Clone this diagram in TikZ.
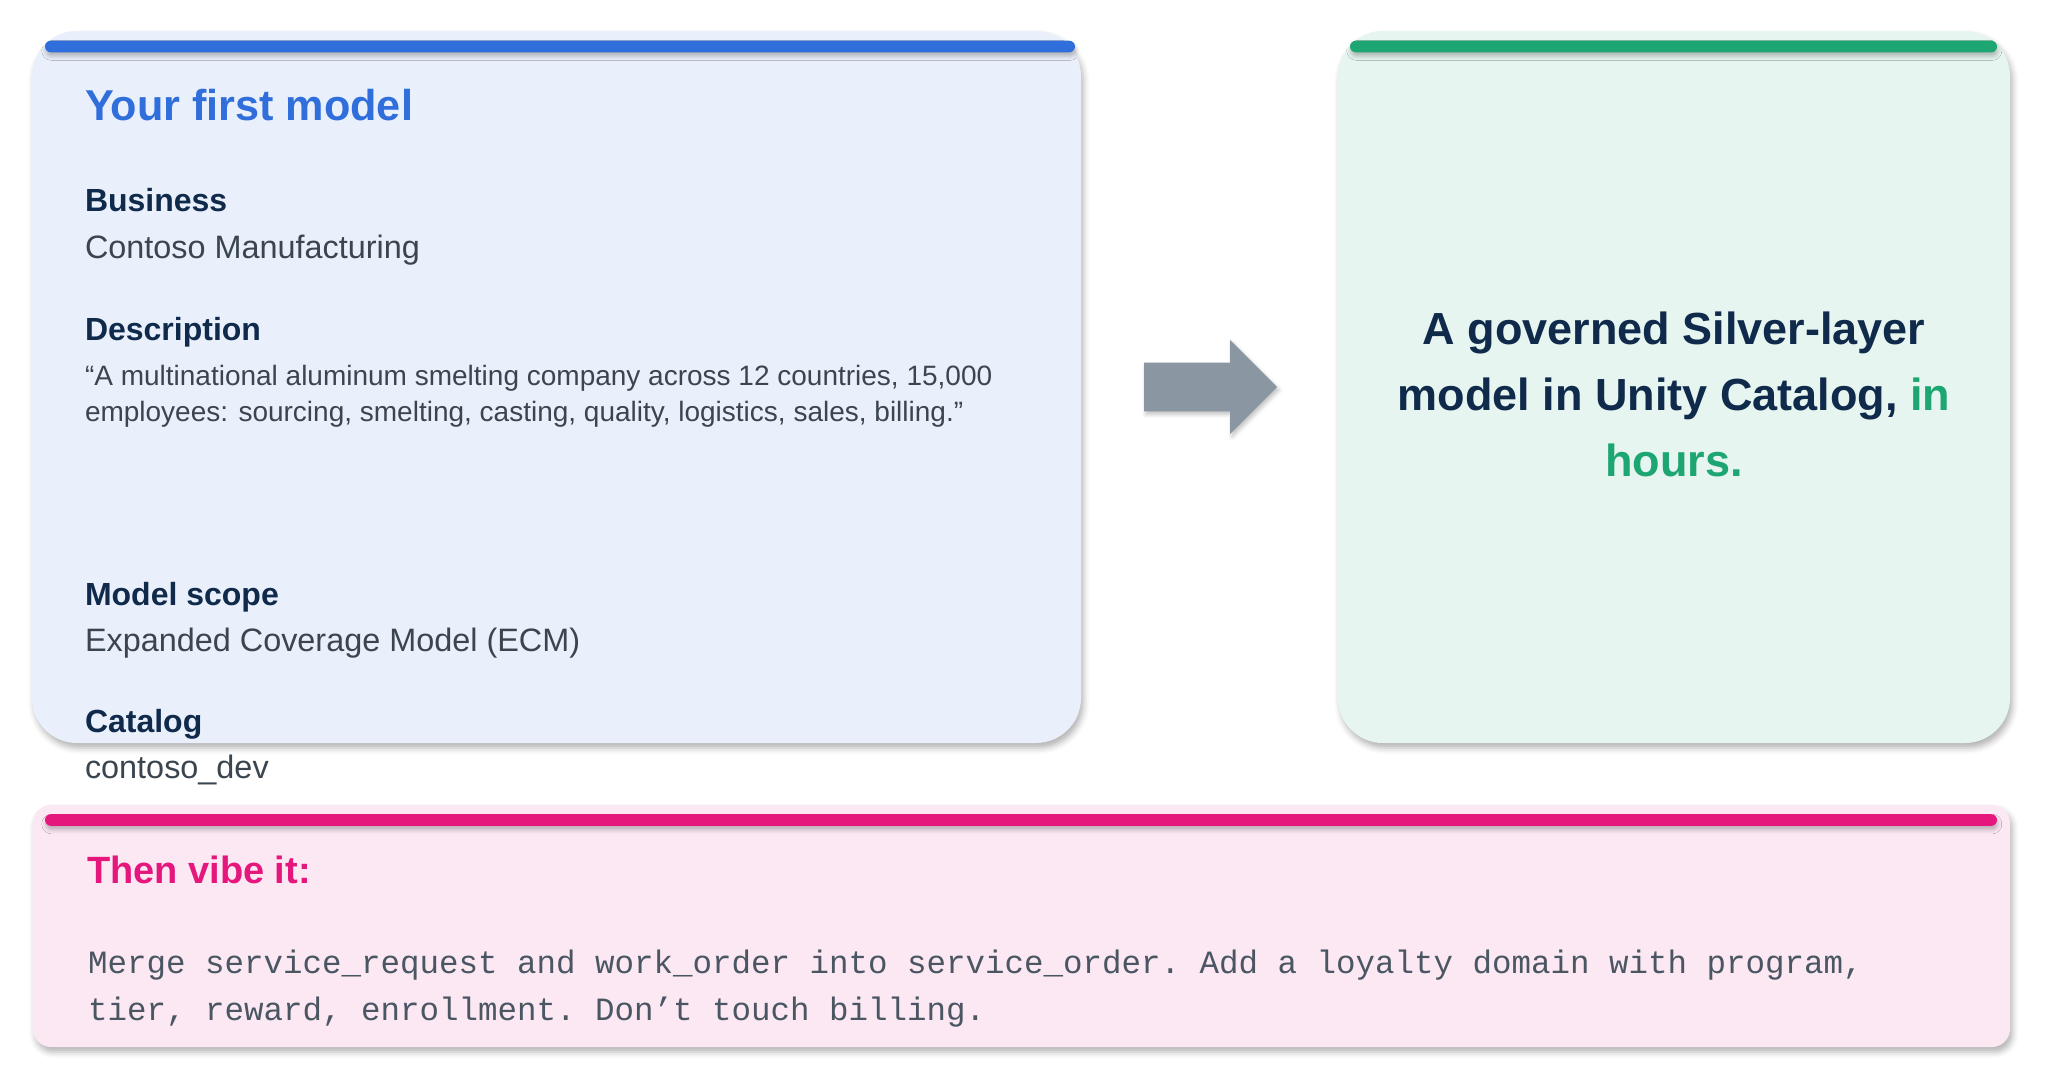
\documentclass[tikz,border=0pt]{standalone}
\usepackage{fontspec}
\setmainfont{Liberation Sans}
\setmonofont{Liberation Mono}
\usetikzlibrary{shadows.blur}
\definecolor{bluefill}{HTML}{EAF0FB}
\definecolor{accentblue}{HTML}{2F6EDB}
\definecolor{navy}{HTML}{0F2A4A}
\definecolor{bodygray}{HTML}{3A4550}
\definecolor{greenfill}{HTML}{E6F5F0}
\definecolor{accentgreen}{HTML}{1DA672}
\definecolor{pinkfill}{HTML}{FCE8F3}
\definecolor{accentpink}{HTML}{E5177D}
\definecolor{arrowgray}{HTML}{8A97A3}
\definecolor{monogray}{HTML}{4B5663}
\begin{document}
\begin{tikzpicture}[x=0.5pt,y=-0.5pt,
  card/.style={rectangle, rounded corners=22.5pt, inner sep=0pt, outer sep=0pt,
    blur shadow={shadow xshift=1.2pt, shadow yshift=-2.5pt, shadow blur radius=3pt, shadow opacity=30}},
  pinkcard/.style={card, rounded corners=9pt},
  bar/.style={rectangle, rounded corners=2.9pt, inner sep=0pt, outer sep=0pt, minimum height=5.8pt,
    blur shadow={shadow xshift=0.4pt, shadow yshift=-2pt, shadow blur radius=2pt, shadow opacity=25}},
  txt/.style={inner sep=0pt, outer sep=0pt, anchor=base west},
  headfont/.style={font={\fontsize{16pt}{19pt}\selectfont\bfseries}, text=navy},
  bodyfont/.style={font={\fontsize{16.2pt}{19pt}\selectfont}, text=bodygray}
]
\useasboundingbox (0,0) rectangle (2045,1088);

% cards
\node[card, fill=bluefill, minimum width=524.5pt, minimum height=356pt] (leftcard) at (556.5,387) {};
\node[card, fill=greenfill, minimum width=336pt, minimum height=356pt] (rightcard) at (1674,387) {};
\node[pinkcard, fill=pinkfill, minimum width=988.5pt, minimum height=121pt] (pinkcard) at (1021.5,926) {};

% accent bars
\node[bar, fill=accentblue, minimum width=515pt] (bluebar) at (560,46.5) {};
\node[bar, fill=accentgreen, minimum width=323.5pt] (greenbar) at (1673.5,46.5) {};
\node[bar, fill=accentpink, minimum width=976pt] (pinkbar) at (1021,820) {};

% arrow
\fill[arrowgray, blur shadow={shadow xshift=1pt, shadow yshift=-1.5pt, shadow blur radius=2pt, shadow opacity=25}]
  (1144,362.7) -- (1230,362.7) -- (1230,340) -- (1277,387) -- (1230,434) -- (1230,411.3) -- (1144,411.3) -- cycle;

% left card texts
\node[txt, font={\fontsize{21.6pt}{25pt}\selectfont\bfseries}, text=accentblue] (title) at (85,120.7) {Your first model};
\node[txt, headfont] (business) at (85,211.7) {Business};
\node[txt, bodyfont] (businessval) at (85,258.3) {Contoso Manufacturing};
\node[txt, headfont] (description) at (85,340) {Description};
\node[txt, align=left, font={\fontsize{14pt}{18.35pt}\selectfont}, text=bodygray] (descval) at (85,421.7)
  {“A multinational aluminum smelting company across 12 countries, 15,000\\employees: sourcing, smelting, casting, quality, logistics, sales, billing.”};
\node[txt, headfont] (scope) at (85,605) {Model scope};
\node[txt, bodyfont] (scopeval) at (85,651) {Expanded Coverage Model (ECM)};
\node[txt, headfont] (catalog) at (85,732.7) {Catalog};
\node[txt, bodyfont] (catalogval) at (85,778.3) {contoso\_dev};

% right card text
\node[anchor=base, inner sep=0pt, align=center, font={\fontsize{22.5pt}{33pt}\selectfont\bfseries}, text=navy] (result) at (1674,476.5)
  {A governed Silver-layer\\model in Unity Catalog, \textcolor{accentgreen}{in}\\\textcolor{accentgreen}{hours.}};

% pink card texts
\node[txt, font={\fontsize{19pt}{22pt}\selectfont\bfseries}, text=accentpink] (vibe) at (87,883.3) {Then vibe it:};
\node[txt, align=left, font={\ttfamily\fontsize{16.25pt}{23.35pt}\selectfont}, text=monogray] (prompt) at (88,1020)
  {Merge service\_request and work\_order into service\_order. Add a loyalty domain with program,\\tier, reward, enrollment. Don’t touch billing.};
\end{tikzpicture}
\end{document}
